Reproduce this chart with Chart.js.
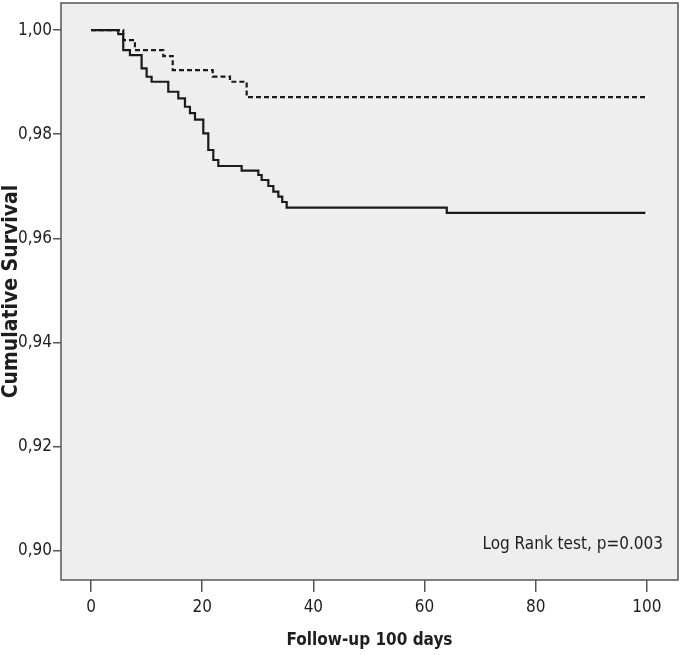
<!DOCTYPE html>
<html>
<head>
<meta charset="utf-8">
<script src="https://cdn.jsdelivr.net/npm/chart.js@4/dist/chart.umd.min.js"></script>
<style>
  html, body { margin: 0; padding: 0; background: #ffffff; }
  #wrap { width: 680px; height: 655px; }
</style>
</head>
<body>
<div id="wrap"><canvas id="c" width="680" height="655"></canvas></div>
<script>
// ---- data ----
const solidDays = [0, 4.9, 5.8, 7.0, 9.1, 10.0, 10.9, 13.9, 15.7, 16.9, 17.8, 18.7, 20.2, 21.1, 22.0, 22.9, 27.1, 30.1, 30.7, 31.9, 32.8, 33.7, 34.4, 35.2, 64.0, 100];
const solidSurv = [1.0, 0.99923, 0.99616, 0.99520, 0.99265, 0.99104, 0.99008, 0.98816, 0.98689, 0.98528, 0.98407, 0.98282, 0.98017, 0.97697, 0.97505, 0.97390, 0.97300, 0.97217, 0.97121, 0.97006, 0.96897, 0.96800, 0.96699, 0.96589, 0.96488, 0.96488];
const dashedDays = [0, 5.8, 7.9, 13.0, 14.7, 21.9, 25.0, 28.0, 100];
const dashedSurv = [1.0, 0.99808, 0.99616, 0.99500, 0.99232, 0.99107, 0.99008, 0.98714, 0.98714];
const xTickValues = [0, 20, 40, 60, 80, 100];
const yTickValues = [0.90, 0.92, 0.94, 0.96, 0.98, 1.00];
const xTitle = 'Follow-up 100 days';
const yTitle = 'Cumulative Survival';
const noteText = 'Log Rank test, p=0.003';

const FONT = '"DejaVu Sans Condensed", "Liberation Sans Narrow", "Liberation Sans", sans-serif';
const AXIS = '#555555';
const TEXT = '#1e1e1e';

const toPts = (xs, ys) => xs.map((x, i) => ({ x: x, y: ys[i] }));

const framePlugin = {
  id: 'frame',
  beforeDatasetsDraw(chart) {
    const { ctx, chartArea: a } = chart;
    ctx.save();
    ctx.fillStyle = '#eeeeee';
    ctx.fillRect(a.left, a.top, a.right - a.left, a.bottom - a.top);
    ctx.restore();
  },
  afterDatasetsDraw(chart) {
    const { ctx, chartArea: a } = chart;
    ctx.save();
    ctx.strokeStyle = AXIS;
    ctx.lineWidth = 1.5;
    ctx.strokeRect(a.left, a.top, a.right - a.left, a.bottom - a.top);
    ctx.fillStyle = TEXT;
    ctx.font = '17px ' + FONT;
    ctx.textAlign = 'right';
    ctx.textBaseline = 'alphabetic';
    ctx.fillText(noteText, 663, 549);
    ctx.restore();
  }
};

const lastOnly = (ctx) => (ctx.dataIndex === ctx.dataset.data.length - 1 ? 1.6 : 0);

new Chart(document.getElementById('c'), {
  type: 'line',
  data: {
    datasets: [
      {
        label: 'solid',
        data: toPts(solidDays, solidSurv),
        stepped: 'before',
        borderColor: '#1a1a1a',
        borderWidth: 2.2,
        fill: false,
        pointRadius: lastOnly,
        pointBackgroundColor: '#ffffff',
        pointBorderWidth: 0,
        pointHoverRadius: 0
      },
      {
        label: 'dashed',
        data: toPts(dashedDays, dashedSurv),
        stepped: 'before',
        borderColor: '#1a1a1a',
        borderWidth: 2.2,
        borderDash: [5, 3],
        fill: false,
        pointRadius: lastOnly,
        pointBackgroundColor: '#ffffff',
        pointBorderWidth: 0,
        pointHoverRadius: 0
      }
    ]
  },
  options: {
    responsive: false,
    animation: false,
    devicePixelRatio: 1,
    layout: { padding: { top: 3, right: 2, left: 0, bottom: 0 } },
    plugins: { legend: { display: false }, tooltip: { enabled: false } },
    scales: {
      x: {
        type: 'linear',
        min: -5.4,
        max: 105.6,
        afterBuildTicks: (s) => { s.ticks = xTickValues.map(v => ({ value: v })); },
        afterFit: (s) => { s.height = 75; s.paddingLeft = 0; s.paddingRight = 0; },
        grid: { display: true, drawOnChartArea: false, drawTicks: true, tickLength: 12, color: AXIS, lineWidth: 1.5 },
        border: { display: false },
        ticks: { color: TEXT, font: { family: FONT, size: 17 }, padding: 5, maxRotation: 0, autoSkip: false,
                 callback: (v) => String(v) },
        title: { display: true, text: xTitle, color: TEXT, font: { family: FONT, size: 17, weight: 'bold' }, padding: { top: 0, bottom: 4 } }
      },
      y: {
        type: 'linear',
        min: 0.8944,
        max: 1.0052,
        afterBuildTicks: (s) => { s.ticks = yTickValues.map(v => ({ value: v })); },
        afterFit: (s) => { s.width = 61; s.paddingTop = 0; s.paddingBottom = 0; },
        grid: { display: true, drawOnChartArea: false, drawTicks: true, tickLength: 8, color: AXIS, lineWidth: 1.5 },
        border: { display: false },
        ticks: { color: TEXT, font: { family: FONT, size: 17 }, padding: 1, autoSkip: false,
                 callback: (v) => Number(v).toFixed(2).replace('.', ',') },
        title: { display: true, text: yTitle, color: TEXT, font: { family: FONT, size: 21, weight: 'bold' }, padding: { top: -1, bottom: 0 } }
      }
    }
  },
  plugins: [framePlugin]
});
</script>
</body>
</html>
